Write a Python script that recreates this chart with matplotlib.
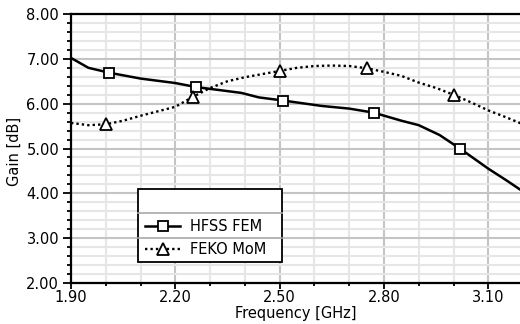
import matplotlib
matplotlib.use("Agg")
import matplotlib.pyplot as plt
from matplotlib.patches import Rectangle
from matplotlib.lines import Line2D
from matplotlib.ticker import MultipleLocator, FixedLocator, FormatStrFormatter

# ---- data ----
hfss_freq = [1.90, 1.95, 2.01, 2.10, 2.20, 2.26, 2.30, 2.39, 2.44, 2.51, 2.62, 2.70,
             2.77, 2.85, 2.90, 2.96, 3.02, 3.10, 3.15, 3.20]
hfss_gain = [7.02, 6.80, 6.69, 6.56, 6.46, 6.37, 6.33, 6.24, 6.14, 6.07, 5.95, 5.89,
             5.80, 5.62, 5.52, 5.30, 4.99, 4.55, 4.30, 4.04]
hfss_marker_freq = [2.01, 2.26, 2.51, 2.77, 3.02]

feko_freq = [1.90, 1.95, 2.00, 2.05, 2.10, 2.15, 2.20, 2.25, 2.30, 2.35, 2.40, 2.45,
             2.50, 2.55, 2.60, 2.65, 2.70, 2.75, 2.80, 2.85, 2.90, 2.95, 3.00, 3.05,
             3.10, 3.15, 3.20]
feko_gain = [5.57, 5.52, 5.54, 5.62, 5.73, 5.83, 5.93, 6.15, 6.35, 6.50, 6.59, 6.66,
             6.73, 6.80, 6.84, 6.85, 6.84, 6.79, 6.71, 6.62, 6.47, 6.35, 6.20, 6.03,
             5.85, 5.70, 5.54]
feko_marker_freq = [2.00, 2.25, 2.50, 2.75, 3.00]

series_labels = ["HFSS FEM", "FEKO MoM"]
x_ticks = [1.90, 2.20, 2.50, 2.80, 3.10]
x_label = "Frequency [GHz]"
y_label = "Gain [dB]"
x_min, x_max = 1.90, 3.194
y_min, y_max = 2.00, 8.00

plt.rcParams['font.family'] = ['DejaVu Sans']
FS = 10.5

W, H = 520, 324
fig = plt.figure(figsize=(W / 100, H / 100), dpi=100)
left_px, right_px, top_px, bottom_px = 71, 521, 14, 283
ax = fig.add_axes([left_px / W, 1 - bottom_px / H, (right_px - left_px) / W,
                   (bottom_px - top_px) / H])

hfss_me = [hfss_freq.index(f) for f in hfss_marker_freq]
feko_me = [feko_freq.index(f) for f in feko_marker_freq]

ax.plot(hfss_freq, hfss_gain, color='black', lw=1.8, ls='-', marker='s', ms=6.5,
        mfc='white', mec='black', mew=1.3, markevery=hfss_me, zorder=4)
ax.plot(feko_freq, feko_gain, color='black', lw=1.7, ls=(0, (1, 1.3)), marker='^', ms=8.5,
        mfc='white', mec='black', mew=1.3, markevery=feko_me, zorder=4)

ax.set_xlim(x_min, x_max)
ax.set_ylim(y_min, y_max)

ax.xaxis.set_major_locator(FixedLocator(x_ticks))
ax.xaxis.set_minor_locator(MultipleLocator(0.1))
ax.yaxis.set_major_locator(MultipleLocator(1.0))
ax.yaxis.set_minor_locator(MultipleLocator(0.2))
ax.xaxis.set_major_formatter(FormatStrFormatter('%.2f'))
ax.yaxis.set_major_formatter(FormatStrFormatter('%.2f'))

ax.grid(which='major', color='#c4c4c4', lw=1.5, zorder=0)
ax.grid(which='minor', color='#e6e6e6', lw=1.5, zorder=0)
ax.set_axisbelow(True)

ax.tick_params(axis='y', which='major', direction='out', length=6, width=1.3,
               labelsize=FS, pad=2.5, colors='black')
ax.tick_params(axis='y', which='minor', direction='out', length=3, width=1.3)
ax.tick_params(axis='x', which='major', direction='out', length=4, width=1.3,
               labelsize=FS, pad=1.2)
ax.tick_params(axis='x', which='minor', direction='out', length=2.5, width=1.3)

for s in ['left', 'bottom', 'top']:
    ax.spines[s].set_linewidth(1.6)
    ax.spines[s].set_color('black')
ax.spines['right'].set_visible(False)

ax.set_xlabel(x_label, fontsize=FS)
ax.set_ylabel(y_label, fontsize=FS)
ax.xaxis.set_label_coords(0.5, -0.086)
ax.yaxis.set_label_coords(-0.11, 0.49)

# legend box with dividers
aw = right_px - left_px
ah = bottom_px - top_px
def fx(px):
    return (px - left_px) / aw
def fy(py):
    return (bottom_px - py) / ah

bx0, bx1 = fx(138), fx(282)
by0, by1 = fy(262), fy(189)
ax.add_patch(Rectangle((bx0, by0), bx1 - bx0, by1 - by0, transform=ax.transAxes,
                       facecolor='white', edgecolor='black', lw=1.3, zorder=6))
for py in (213, 238):
    ax.add_line(Line2D([bx0, bx1], [fy(py), fy(py)], transform=ax.transAxes,
                       color='#a8a8a8', lw=1.2, zorder=7))

leg = ax.legend(series_labels, loc='center left',
                bbox_to_anchor=(fx(145), (fy(225.5) + fy(250)) / 2),
                frameon=False, fontsize=FS, handlelength=2.4, handletextpad=0.7,
                labelspacing=0.55, borderpad=0, borderaxespad=0, numpoints=1)
leg.set_zorder(8)

fig.savefig("out.png", dpi=100)
